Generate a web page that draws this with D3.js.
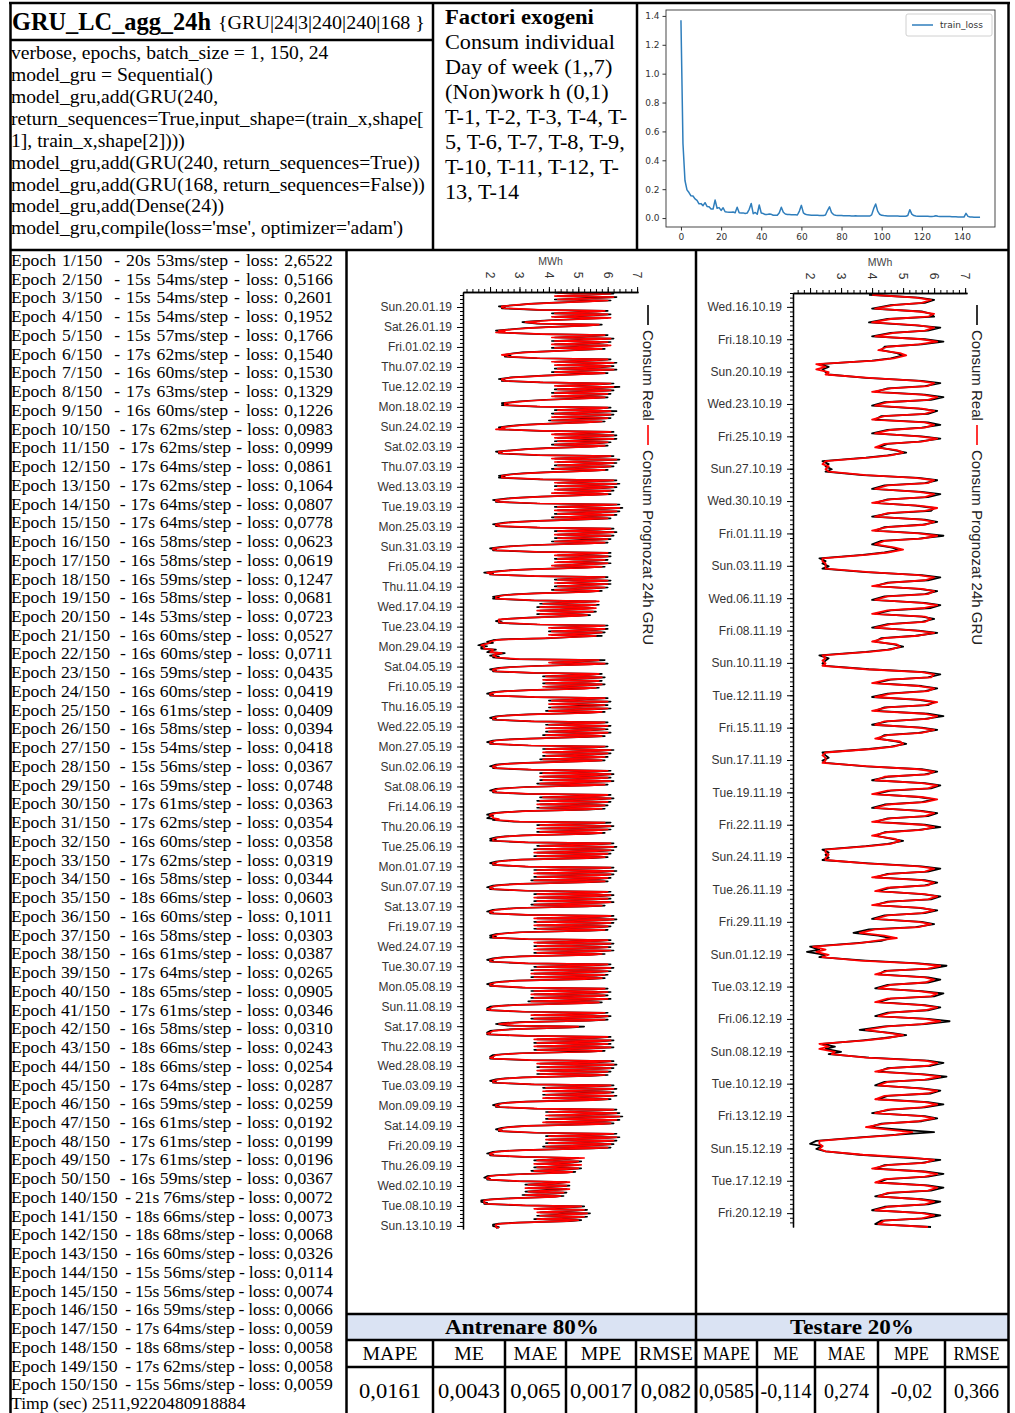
<!DOCTYPE html>
<html><head><meta charset="utf-8">
<script src="https://cdn.jsdelivr.net/npm/d3@7"></script>
<style>
html,body{margin:0;padding:0;background:#fff;}
svg{display:block;}
</style></head><body>
<svg id="fig" width="1015" height="1413"></svg>
<script>
// ---------------- model description ----------------
const modelName = "GRU_LC_agg_24h";
const modelTag = "{GRU|24|3|240|240|168 }";
const codeLines = [
  "verbose, epochs, batch_size = 1, 150, 24",
  "model_gru = Sequential()",
  "model_gru,add(GRU(240,",
  "return_sequences=True,input_shape=(train_x,shape[",
  "1], train_x,shape[2])))",
  "model_gru,add(GRU(240, return_sequences=True))",
  "model_gru,add(GRU(168, return_sequences=False))",
  "model_gru,add(Dense(24))",
  "model_gru,compile(loss='mse', optimizer='adam')"
];
const exoTitle = "Factori exogeni";
const exoLines = [
  "Consum individual", "Day of week (1,,7)", "(Non)work h (0,1)",
  "T-1, T-2, T-3, T-4, T-", "5, T-6, T-7, T-8, T-9,", "T-10, T-11, T-12, T-", "13, T-14"
];

// ---------------- training log ----------------
const epochNo = [1,2,3,4,5,6,7,8,9,10,11,12,13,14,15,16,17,18,19,20,21,22,23,24,25,26,27,28,29,30,
  31,32,33,34,35,36,37,38,39,40,41,42,43,44,45,46,47,48,49,50,140,141,142,143,144,145,146,147,148,149,150];
const epochSec = [20,15,15,15,15,17,16,17,16,17,17,17,17,17,17,16,16,16,16,14,16,16,16,16,16,16,15,15,16,17,
  17,16,17,16,18,16,16,16,17,18,17,16,18,18,17,16,16,17,17,16,21,18,18,16,15,15,16,17,18,17,15];
const epochMs = [53,54,54,54,57,62,60,63,60,62,62,64,62,64,64,58,58,59,58,53,60,60,59,60,61,58,54,56,59,61,
  62,60,62,58,66,60,58,61,64,65,61,58,66,66,64,59,61,61,61,59,76,66,68,60,56,56,59,64,68,62,56];
const epochLoss = [2.6522,0.5166,0.2601,0.1952,0.1766,0.1540,0.1530,0.1329,0.1226,0.0983,0.0999,0.0861,0.1064,0.0807,0.0778,
  0.0623,0.0619,0.1247,0.0681,0.0723,0.0527,0.0711,0.0435,0.0419,0.0409,0.0394,0.0418,0.0367,0.0748,0.0363,
  0.0354,0.0358,0.0319,0.0344,0.0603,0.1011,0.0303,0.0387,0.0265,0.0905,0.0346,0.0310,0.0243,0.0254,0.0287,
  0.0259,0.0192,0.0199,0.0196,0.0367,0.0072,0.0073,0.0068,0.0326,0.0114,0.0074,0.0066,0.0059,0.0058,0.0058,0.0059];
const totalEpochs = 150;
const trainTime = "2511,9220480918884";

// loss history plotted in the small chart (one value per epoch)
const lossCurve = [
  1.37,0.5166,0.2601,0.1952,0.1766,0.1540,0.1530,0.1329,0.1226,0.0983,
  0.0999,0.0861,0.1064,0.0807,0.0778,0.0623,0.0619,0.1247,0.0681,0.0723,
  0.0527,0.0711,0.0435,0.0419,0.0409,0.0394,0.0418,0.0367,0.0748,0.0363,
  0.0354,0.0358,0.0319,0.0344,0.0603,0.1011,0.0303,0.0387,0.0265,0.0905,
  0.0346,0.0310,0.0243,0.0254,0.0287,0.0259,0.0192,0.0199,0.0196,0.0367,
  0.075,0.040,0.028,0.025,0.024,0.023,0.022,0.022,0.021,0.048,
  0.088,0.036,0.026,0.022,0.021,0.020,0.020,0.019,0.019,0.018,
  0.018,0.018,0.021,0.052,0.078,0.038,0.024,0.019,0.018,0.017,
  0.017,0.016,0.016,0.016,0.016,0.015,0.015,0.016,0.015,0.015,
  0.015,0.015,0.014,0.015,0.014,0.022,0.065,0.097,0.048,0.026,
  0.019,0.017,0.016,0.015,0.015,0.014,0.014,0.014,0.014,0.013,
  0.013,0.013,0.013,0.018,0.058,0.027,0.017,0.014,0.013,0.013,
  0.012,0.012,0.012,0.012,0.011,0.011,0.012,0.016,0.012,0.011,
  0.011,0.010,0.010,0.010,0.010,0.009,0.009,0.009,0.008,
  0.0072,0.0073,0.0068,0.0326,0.0114,0.0074,0.0066,0.0059,0.0058,0.0058,0.0059
];
const lossXTicks = [0,20,40,60,80,100,120,140];
const lossYTicks = [0,0.2,0.4,0.6,0.8,1.0,1.2,1.4];

// ---------------- hourly load, MWh ----------------
// training set: one row per week, 3 readings a day (04h, 11h, 17h), from Wed 16.01.2019
const trainHours = [4, 11, 17];
const trainReal = [
  4.2,6.2,5.6, 4.3,6.3,5.7, 4.2,6.1,5.3, 4.0,3.3,3.0, 2.3,2.5,2.4,
  3.6,6.0,5.5, 4.1,6.1,5.6, 4.2,6.0,5.4, 4.0,3.4,3.1, 3.6,5.8,5.2, 3.9,3.2,2.8, 2.2,2.4,2.3,
  3.7,6.0,5.6, 4.2,6.2,5.5, 4.1,6.1,5.7, 4.2,6.0,5.4, 4.1,5.9,5.3, 3.9,3.1,2.8, 2.5,2.7,2.5,
  3.6,6.1,5.7, 4.2,6.3,5.6, 4.3,6.2,5.8, 4.2,6.3,5.6, 4.1,6.0,5.3, 3.8,3.2,2.7, 2.3,2.5,2.4,
  3.7,6.2,5.7, 4.3,6.4,5.8, 4.2,6.2,5.6, 4.1,6.1,5.7, 4.2,6.0,5.4, 3.9,3.3,2.9, 2.4,2.6,2.4,
  3.6,6.1,5.6, 4.2,6.3,5.7, 4.1,6.2,5.8, 4.2,6.1,5.5, 4.0,5.9,5.2, 3.8,3.1,2.7, 2.3,2.4,2.3,
  3.7,6.2,5.7, 4.2,6.3,5.8, 4.3,6.3,5.6, 4.2,6.1,5.7, 4.1,6.0,5.4, 3.9,3.2,2.8, 2.2,2.4,2.3,
  3.6,6.2,5.6, 4.2,6.4,5.8, 4.3,6.3,5.7, 4.2,6.2,5.6, 4.1,6.0,5.3, 3.8,3.1,2.7, 2.3,2.5,2.3,
  3.7,6.3,5.7, 4.3,6.4,5.9, 4.2,6.3,5.8, 4.3,6.2,5.6, 4.2,6.1,5.4, 3.7,3.0,2.6, 2.1,2.3,2.2,
  3.6,6.4,5.8, 4.2,6.5,5.9, 4.3,6.4,5.7, 4.2,6.3,5.8, 4.1,6.1,5.5, 3.6,2.9,2.5, 2.1,2.3,2.2,
  3.6,6.2,5.7, 4.2,6.3,5.6, 4.3,6.2,5.7, 4.2,6.1,5.5, 4.1,6.0,5.3, 3.5,2.8,2.4, 2.0,2.2,2.1,
  3.5,6.1,5.6, 4.3,6.1,5.5, 4.2,6.0,5.6, 4.3,6.1,5.4, 4.2,5.9,5.2, 3.5,2.7,2.3, 1.8,2.1,2.0,
  3.5,6.0,5.5, 4.2,6.1,5.6, 4.3,6.1,5.4, 4.2,6.0,5.5, 4.1,5.8,5.2, 3.5,2.8,2.4, 2.1,2.3,2.1,
  3.4,5.6,5.1, 3.7,5.7,5.2, 3.6,5.5,5.0, 3.7,5.6,5.1, 3.6,5.4,4.9, 3.3,2.7,2.4, 2.2,2.4,2.3,
  3.6,6.0,5.5, 4.1,6.0,5.6, 4.0,5.9,5.4, 4.1,5.8,5.0, 3.9,2.4,2.1, 1.9,2.1,1.8, 1.6,1.9,1.7,
  1.7,2.2,2.0, 1.9,2.5,2.3, 2.0,2.3,2.1, 2.8,5.9,5.4, 4.1,6.0,5.3, 3.5,2.7,2.3, 2.0,2.2,2.1,
  3.4,5.8,5.3, 3.8,5.9,5.4, 3.9,5.8,5.3, 3.8,5.9,5.4, 3.9,5.7,5.1, 3.3,2.5,2.1, 1.9,2.1,2.0,
  3.5,6.0,5.5, 4.0,6.1,5.6, 4.1,6.0,5.4, 4.0,6.1,5.5, 3.9,5.9,5.2, 3.3,2.6,2.2, 2.0,2.2,2.1,
  3.4,6.0,5.5, 3.9,6.1,5.6, 4.0,6.0,5.5, 3.9,6.1,5.4, 3.8,5.9,5.3, 3.3,2.5,2.1, 1.9,2.1,2.0,
  3.3,6.0,5.6, 3.8,6.2,5.6, 3.9,6.1,5.5, 3.8,6.0,5.4, 3.7,5.9,5.2, 3.2,2.5,2.2, 2.0,2.2,2.1,
  3.3,6.1,5.6, 3.7,6.2,5.7, 3.8,6.1,5.6, 3.7,6.2,5.5, 3.6,6.0,5.3, 3.2,2.6,2.2, 2.0,2.2,2.1,
  3.2,6.1,5.6, 3.7,6.2,5.7, 3.6,6.1,5.6, 3.7,6.0,5.5, 3.6,5.9,5.3, 3.1,2.5,2.1, 1.9,2.1,2.0,
  1.9,2.2,2.1, 2.8,6.1,5.6, 3.6,6.2,5.7, 3.7,6.1,5.5, 3.6,5.9,5.3, 3.1,2.5,2.2, 2.0,2.2,2.0,
  3.2,6.2,5.7, 3.6,6.3,5.8, 3.5,6.2,5.7, 3.6,6.1,5.6, 3.5,6.0,5.4, 3.0,2.5,2.2, 2.0,2.2,2.1,
  3.2,6.2,5.7, 3.5,6.3,5.8, 3.6,6.2,5.6, 3.5,6.1,5.7, 3.4,6.0,5.4, 3.0,2.4,2.1, 1.9,2.1,2.0,
  3.2,6.1,5.6, 3.5,6.2,5.7, 3.6,6.1,5.6, 3.5,6.2,5.5, 3.4,5.9,5.3, 2.9,2.4,2.1, 1.9,2.1,2.0,
  3.2,6.2,5.7, 3.6,6.3,5.8, 3.5,6.2,5.6, 3.6,6.1,5.7, 3.5,6.0,5.4, 3.0,2.5,2.2, 2.0,2.2,2.0,
  3.2,6.1,5.6, 3.6,6.2,5.7, 3.5,6.1,5.5, 3.6,6.2,5.6, 3.5,5.9,5.3, 3.0,2.4,2.1, 1.9,2.1,2.0,
  3.2,6.1,5.6, 3.5,6.2,5.6, 3.4,6.1,5.5, 3.5,6.0,5.6, 3.4,5.9,5.3, 2.9,2.4,2.1, 1.9,2.1,2.0,
  3.1,6.0,5.5, 3.4,6.1,5.6, 3.5,6.0,5.5, 3.4,6.1,5.4, 3.3,5.8,5.2, 2.9,2.3,2.0, 1.9,2.0,1.9,
  3.1,6.0,5.5, 3.5,6.1,5.6, 3.4,6.0,5.4, 3.0,2.4,2.2, 2.6,5.2,4.8, 2.8,2.3,2.0, 1.9,2.0,1.9,
  3.2,6.1,5.6, 3.6,6.2,5.7, 3.5,6.1,5.5, 3.6,6.2,5.6, 3.5,5.9,5.3, 3.0,2.4,2.1, 2.0,2.1,2.0,
  3.3,6.2,5.7, 3.7,6.3,5.8, 3.6,6.2,5.6, 3.7,6.1,5.7, 3.6,6.0,5.4, 3.1,2.5,2.2, 2.0,2.2,2.1,
  3.4,6.2,5.7, 3.8,6.3,5.8, 3.9,6.2,5.7, 3.8,6.3,5.6, 3.9,6.1,5.4, 3.2,2.6,2.3, 2.1,2.3,2.2,
  3.5,6.3,5.8, 3.9,6.4,5.9, 4.0,6.5,5.8, 3.9,6.4,5.9, 3.9,6.2,5.6, 3.2,2.7,2.4, 2.2,2.4,2.3,
  3.5,6.3,5.8, 3.9,6.4,5.8, 4.0,6.3,5.7, 3.9,6.2,5.8, 3.8,6.1,5.5, 3.1,2.4,2.1, 1.9,2.1,2.0,
  3.1,5.0,4.7, 3.5,5.1,4.8, 3.6,5.0,4.6, 3.5,5.1,4.7, 3.4,4.9,4.5, 2.9,2.2,1.9, 1.8,2.0,1.9,
  2.9,4.6,4.3, 3.2,4.7,4.4, 3.3,4.6,4.2, 3.2,4.6,4.3, 3.1,4.5,4.1, 2.6,2.0,1.7, 1.7,1.9,1.8,
  3.1,5.2,4.8, 3.6,5.3,4.9, 3.7,5.4,4.8, 3.6,5.3,4.9, 3.5,5.1,4.7, 2.9,2.3,2.1, 2.1,2.3,2.2
];
const trainPred = [
  4.3,6.1,5.7, 4.2,6.2,5.6, 4.3,6.0,5.4, 4.1,3.4,2.9, 2.4,2.4,2.5,
  3.7,5.9,5.6, 4.2,6.0,5.5, 4.1,6.1,5.5, 4.1,3.6,3.2, 3.7,5.7,5.3, 4.0,3.3,2.9, 2.3,2.5,2.2,
  3.8,5.9,5.5, 4.1,6.1,5.6, 4.2,6.0,5.6, 4.1,6.1,5.5, 4.2,5.8,5.2, 4.0,3.2,2.9, 2.4,2.6,2.6,
  3.7,6.0,5.6, 4.1,6.2,5.7, 4.2,6.1,5.7, 4.3,6.2,5.5, 4.2,5.9,5.4, 3.9,3.3,2.8, 2.4,2.4,2.5,
  3.8,6.1,5.6, 4.2,6.2,5.7, 4.3,6.1,5.7, 4.2,6.0,5.6, 4.1,5.9,5.5, 4.0,3.4,3.0, 2.5,2.5,2.5,
  3.7,6.0,5.7, 4.3,6.1,5.6, 4.2,6.1,5.7, 4.1,6.0,5.6, 4.1,5.8,5.3, 3.9,3.2,2.8, 2.4,2.5,2.2,
  3.8,6.1,5.6, 4.1,6.2,5.7, 4.2,6.2,5.7, 4.3,6.0,5.6, 4.2,5.9,5.5, 4.0,3.3,2.9, 2.3,2.3,2.4,
  3.7,6.1,5.7, 4.1,6.3,5.7, 4.2,6.2,5.8, 4.3,6.1,5.5, 4.2,5.9,5.4, 3.9,3.2,2.8, 2.4,2.4,2.4,
  3.8,6.2,5.6, 4.2,6.3,5.8, 4.3,6.2,5.7, 4.2,6.1,5.7, 4.1,6.0,5.5, 3.8,3.1,2.7, 2.2,2.2,2.3,
  3.7,6.3,5.7, 4.3,6.4,5.8, 4.2,6.3,5.8, 4.3,6.2,5.7, 4.2,6.0,5.4, 3.7,3.0,2.6, 2.2,2.2,2.3,
  3.7,6.1,5.6, 4.3,6.2,5.7, 4.2,6.1,5.6, 4.3,6.0,5.6, 4.2,5.9,5.4, 3.6,2.9,2.5, 2.1,2.1,2.2,
  3.6,6.0,5.5, 4.2,6.0,5.6, 4.3,5.9,5.5, 4.2,6.0,5.5, 4.1,5.8,5.3, 3.6,2.8,2.4, 1.9,2.0,2.1,
  3.6,5.9,5.6, 4.3,6.0,5.5, 4.2,6.0,5.5, 4.3,5.9,5.4, 4.2,5.7,5.3, 3.6,2.9,2.5, 2.2,2.2,2.2,
  3.5,5.7,5.0, 3.8,5.6,5.3, 3.7,5.6,5.1, 3.6,5.5,5.0, 3.7,5.3,5.0, 3.4,2.8,2.3, 2.3,2.3,2.4,
  3.7,5.9,5.6, 4.0,5.9,5.5, 4.1,5.8,5.3, 4.0,5.6,5.1, 3.7,2.6,2.2, 2.0,2.0,1.9, 1.7,1.8,1.8,
  1.8,2.1,2.1, 2.0,2.4,2.2, 2.1,2.2,2.2, 3.0,5.7,5.3, 4.0,5.9,5.4, 3.6,2.8,2.4, 2.1,2.1,2.2,
  3.5,5.7,5.4, 3.9,5.8,5.3, 3.8,5.7,5.4, 3.9,5.8,5.3, 3.8,5.6,5.2, 3.4,2.6,2.2, 2.0,2.0,2.1,
  3.6,5.9,5.4, 4.1,6.0,5.5, 4.0,5.9,5.5, 4.1,6.0,5.4, 4.0,5.8,5.3, 3.4,2.7,2.3, 2.1,2.1,2.2,
  3.5,5.9,5.6, 4.0,6.0,5.5, 3.9,5.9,5.4, 4.0,6.0,5.5, 3.9,5.8,5.2, 3.4,2.6,2.2, 2.0,2.0,2.1,
  3.4,5.9,5.5, 3.9,6.1,5.7, 3.8,6.0,5.4, 3.9,5.9,5.5, 3.8,5.8,5.3, 3.3,2.6,2.3, 2.1,2.1,2.2,
  3.4,6.0,5.5, 3.8,6.1,5.6, 3.7,6.0,5.7, 3.8,6.1,5.4, 3.7,5.9,5.4, 3.3,2.7,2.3, 2.1,2.1,2.2,
  3.3,6.0,5.7, 3.8,6.1,5.6, 3.7,6.0,5.5, 3.6,5.9,5.6, 3.7,5.8,5.2, 3.2,2.6,2.2, 2.0,2.0,2.1,
  2.1,2.3,2.2, 3.0,5.9,5.5, 3.7,6.1,5.6, 3.6,6.0,5.6, 3.7,5.8,5.2, 3.2,2.6,2.3, 2.1,2.1,2.1,
  3.3,6.1,5.6, 3.7,6.2,5.7, 3.6,6.1,5.6, 3.5,6.0,5.7, 3.6,5.9,5.3, 3.1,2.6,2.3, 2.1,2.1,2.2,
  3.3,6.1,5.6, 3.6,6.2,5.7, 3.5,6.1,5.7, 3.6,6.0,5.6, 3.5,5.9,5.3, 3.1,2.5,2.2, 2.0,2.0,2.1,
  3.3,6.0,5.7, 3.6,6.1,5.6, 3.5,6.0,5.5, 3.6,6.1,5.6, 3.5,5.8,5.2, 3.0,2.5,2.2, 2.0,2.0,2.1,
  3.3,6.1,5.6, 3.5,6.2,5.7, 3.6,6.1,5.7, 3.5,6.0,5.6, 3.6,5.9,5.3, 3.1,2.6,2.3, 2.1,2.1,2.1,
  3.3,6.0,5.7, 3.5,6.1,5.6, 3.6,6.0,5.6, 3.5,6.1,5.5, 3.6,5.8,5.4, 3.1,2.5,2.2, 2.0,2.0,2.1,
  3.3,6.0,5.5, 3.6,6.1,5.7, 3.5,6.0,5.4, 3.4,5.9,5.5, 3.5,5.8,5.2, 3.0,2.5,2.2, 2.0,2.0,2.1,
  3.2,5.9,5.6, 3.5,6.0,5.5, 3.4,5.9,5.6, 3.5,6.0,5.3, 3.4,5.7,5.3, 3.0,2.4,2.1, 2.0,1.9,2.0,
  3.2,5.9,5.4, 3.4,6.0,5.5, 3.5,5.9,5.3, 3.2,2.6,2.3, 2.8,5.0,4.7, 2.9,2.4,2.1, 2.0,1.9,2.0,
  3.3,6.0,5.5, 3.5,6.1,5.6, 3.6,6.0,5.6, 3.5,6.1,5.5, 3.6,5.8,5.4, 3.1,2.5,2.2, 2.1,2.0,2.1,
  3.4,6.1,5.6, 3.6,6.2,5.7, 3.7,6.1,5.7, 3.6,6.0,5.6, 3.7,5.9,5.3, 3.2,2.6,2.3, 2.1,2.1,2.2,
  3.5,6.1,5.6, 3.9,6.2,5.7, 3.8,6.1,5.8, 3.9,6.2,5.5, 3.8,6.0,5.5, 3.3,2.7,2.4, 2.2,2.2,2.3,
  3.6,6.2,5.7, 4.0,6.3,5.8, 3.9,6.4,5.9, 4.0,6.3,5.8, 3.8,6.1,5.7, 3.3,2.8,2.5, 2.3,2.3,2.4,
  3.6,6.2,5.7, 4.0,6.3,5.9, 3.9,6.2,5.6, 4.0,6.1,5.7, 3.9,6.0,5.4, 3.2,2.5,2.2, 2.0,2.0,2.1,
  3.2,5.2,4.6, 3.6,5.0,4.7, 3.5,5.1,4.7, 3.6,5.0,4.6, 3.5,4.8,4.6, 3.0,2.3,2.0, 1.9,1.9,2.0,
  3.0,4.7,4.2, 3.3,4.6,4.3, 3.2,4.7,4.3, 3.3,4.5,4.2, 3.2,4.4,4.2, 2.7,2.1,1.8, 1.8,1.8,1.9,
  3.2,5.1,4.7, 3.5,5.2,4.8, 3.6,5.3,4.9, 3.7,5.2,4.8, 3.6,5.0,4.6, 3.0,2.4,2.2, 2.2,2.2,2.3
];
const trainTickLabels = ["Sun.20.01.19","Sat.26.01.19","Fri.01.02.19","Thu.07.02.19","Tue.12.02.19","Mon.18.02.19",
  "Sun.24.02.19","Sat.02.03.19","Thu.07.03.19","Wed.13.03.19","Tue.19.03.19","Mon.25.03.19","Sun.31.03.19",
  "Fri.05.04.19","Thu.11.04.19","Wed.17.04.19","Tue.23.04.19","Mon.29.04.19","Sat.04.05.19","Fri.10.05.19",
  "Thu.16.05.19","Wed.22.05.19","Mon.27.05.19","Sun.02.06.19","Sat.08.06.19","Fri.14.06.19","Thu.20.06.19",
  "Tue.25.06.19","Mon.01.07.19","Sun.07.07.19","Sat.13.07.19","Fri.19.07.19","Wed.24.07.19","Tue.30.07.19",
  "Mon.05.08.19","Sun.11.08.19","Sat.17.08.19","Thu.22.08.19","Wed.28.08.19","Tue.03.09.19","Mon.09.09.19",
  "Sat.14.09.19","Fri.20.09.19","Thu.26.09.19","Wed.02.10.19","Tue.08.10.19","Sun.13.10.19"];

// test set: 5 readings a day (03h, 08h, 12h, 17h, 21h), from Tue 15.10.2019
const testHours = [3, 8, 12, 17, 21];
const testReal = [
  3.9,5.5,6.0,5.7,4.6, 4.0,5.6,5.9,6.0,4.5, 3.9,5.4,6.2,5.8,4.6, 4.0,5.7,6.3,5.6,4.4, 4.3,4.8,5.0,4.6,4.0, 2.3,2.6,2.4,2.5,2.6,
  3.8,5.6,6.2,5.7,4.5, 4.1,5.7,6.3,5.9,4.4, 4.0,5.5,6.1,5.8,4.3, 4.1,5.8,6.2,5.6,4.5, 4.0,5.6,6.2,5.5,4.5, 4.2,4.7,5.1,4.5,3.8, 2.4,2.6,2.5,2.7,2.5,
  3.7,5.5,6.1,5.7,4.4, 4.0,5.6,6.2,5.8,4.5, 4.1,5.4,6.0,5.9,4.6, 4.0,5.7,6.1,5.6,4.4, 4.1,5.6,6.3,5.5,4.3, 4.0,4.6,4.9,4.4,3.7, 2.3,2.5,2.4,2.6,2.4,
  3.8,5.6,6.2,5.8,4.5, 4.1,5.5,6.1,5.7,4.4, 4.0,5.7,6.2,5.9,4.6, 4.1,5.6,6.0,5.6,4.5, 4.0,5.5,6.1,5.4,4.3, 4.1,4.7,5.0,4.5,3.8, 2.3,2.6,2.5,2.4,2.5,
  3.9,5.7,6.2,5.8,4.6, 4.1,5.6,6.1,5.7,4.5, 4.0,5.5,6.0,5.8,4.4, 4.1,5.8,6.3,5.7,4.5, 4.0,5.6,6.1,5.5,4.4, 4.2,4.8,5.1,4.6,3.9, 2.4,2.5,2.6,2.4,2.5,
  3.8,5.6,6.1,5.7,4.5, 4.0,5.7,6.2,5.9,4.6, 4.1,5.5,6.0,5.6,4.4, 4.0,5.6,6.1,5.8,4.5, 4.1,5.7,6.2,5.5,4.4, 4.1,4.6,5.0,4.5,3.8, 2.4,2.6,2.5,2.6,2.4,
  3.9,5.6,6.2,5.8,4.5, 4.1,5.7,6.1,5.7,4.6, 4.2,5.6,6.2,5.9,4.5, 4.1,5.5,6.1,5.7,4.4, 4.0,5.6,6.0,5.4,3.9, 3.4,4.2,4.6,4.3,3.5, 2.0,2.3,1.9,2.5,2.3,
  3.8,5.5,6.4,5.9,4.4, 4.2,5.8,6.2,5.8,4.5, 4.1,5.6,6.3,6.0,4.6, 4.2,5.7,6.2,5.8,4.5, 4.1,5.8,6.5,5.7,4.4, 3.6,4.6,5.1,4.4,3.7, 2.4,2.8,2.5,3.0,2.6,
  3.9,5.8,6.3,5.9,4.5, 4.2,5.7,6.4,5.8,4.4, 4.1,5.6,6.2,5.9,4.5, 4.2,5.8,6.3,5.7,4.6, 4.0,5.7,6.1,5.6,4.3, 3.9,5.0,6.0,4.6,3.6, 2.2,2.0,2.4,2.2,2.5,
  3.6,5.0,6.2,5.6,4.4, 4.1,5.7,6.3,5.8,4.5, 4.2,5.8,6.3,5.9,4.6, 4.1,5.6,6.2,5.8,4.4, 4.0,5.7,6.2,5.7,4.3, 4.1,5.9
];
const testPred = [
  4.0,5.4,5.9,5.6,4.7, 4.1,5.5,6.0,5.8,4.6, 4.0,5.5,6.0,5.7,4.7, 4.1,5.6,6.1,5.5,4.5, 4.2,4.9,5.1,4.7,4.1, 2.2,2.5,2.2,2.6,2.5,
  3.9,5.5,6.0,5.8,4.6, 4.0,5.6,6.1,5.8,4.5, 4.1,5.6,6.0,5.7,4.4, 4.0,5.7,6.0,5.7,4.6, 4.1,5.5,6.1,5.6,4.4, 4.1,4.8,5.0,4.6,3.9, 2.5,2.4,2.6,2.5,2.6,
  3.8,5.4,6.0,5.8,4.5, 4.1,5.5,6.0,5.7,4.6, 4.0,5.5,6.1,5.7,4.5, 4.1,5.6,6.0,5.7,4.5, 4.0,5.5,6.1,5.6,4.4, 4.1,4.7,5.0,4.5,3.8, 2.4,2.4,2.5,2.5,2.5,
  3.9,5.5,6.0,5.7,4.6, 4.0,5.6,6.0,5.8,4.5, 4.1,5.6,6.1,5.7,4.5, 4.0,5.7,5.9,5.7,4.6, 4.1,5.4,6.0,5.5,4.4, 4.0,4.8,4.9,4.6,3.9, 2.4,2.5,2.4,2.5,2.4,
  3.8,5.6,6.0,5.9,4.5, 4.0,5.5,6.0,5.8,4.6, 4.1,5.6,6.1,5.7,4.5, 4.0,5.7,6.1,5.8,4.4, 4.1,5.5,6.0,5.6,4.5, 4.1,4.9,5.0,4.7,4.0, 2.5,2.4,2.5,2.5,2.4,
  3.9,5.5,6.0,5.8,4.4, 4.1,5.6,6.1,5.8,4.5, 4.0,5.6,6.1,5.7,4.5, 4.1,5.5,6.0,5.7,4.6, 4.0,5.6,6.0,5.6,4.5, 4.0,4.7,4.9,4.6,3.9, 2.5,2.5,2.6,2.5,2.5,
  3.8,5.5,6.0,5.7,4.6, 4.0,5.6,6.0,5.8,4.5, 4.1,5.7,6.1,5.8,4.6, 4.0,5.6,6.0,5.6,4.5, 4.1,5.5,5.9,5.5,4.1, 3.6,4.4,4.8,4.1,3.6, 2.1,2.5,2.2,2.6,2.4,
  3.6,5.4,6.2,5.8,4.5, 4.1,5.7,6.0,5.7,4.6, 4.2,5.5,6.1,5.9,4.5, 4.1,5.6,6.1,5.7,4.6, 4.2,5.7,6.2,5.6,4.5, 3.8,4.5,5.0,4.5,3.8, 2.3,2.6,2.3,2.8,2.7,
  3.8,5.7,6.1,5.8,4.6, 4.1,5.6,6.2,5.7,4.5, 4.2,5.5,6.1,5.8,4.4, 4.1,5.7,6.1,5.6,4.5, 4.1,5.6,6.0,5.5,4.4, 3.8,4.6,5.3,4.7,3.7, 2.3,2.3,2.4,2.3,2.5,
  3.7,5.3,6.0,5.7,4.5, 4.0,5.6,6.1,5.7,4.4, 4.1,5.7,6.1,5.8,4.5, 4.2,5.5,6.0,5.7,4.5, 4.1,5.6,6.0,5.6,4.4, 4.2,5.8
];
const testTickLabels = ["Wed.16.10.19","Fri.18.10.19","Sun.20.10.19","Wed.23.10.19","Fri.25.10.19","Sun.27.10.19",
  "Wed.30.10.19","Fri.01.11.19","Sun.03.11.19","Wed.06.11.19","Fri.08.11.19","Sun.10.11.19","Tue.12.11.19",
  "Fri.15.11.19","Sun.17.11.19","Tue.19.11.19","Fri.22.11.19","Sun.24.11.19","Tue.26.11.19","Fri.29.11.19",
  "Sun.01.12.19","Tue.03.12.19","Fri.06.12.19","Sun.08.12.19","Tue.10.12.19","Fri.13.12.19","Sun.15.12.19",
  "Tue.17.12.19","Fri.20.12.19"];

const valueTicks = [2, 3, 4, 5, 6, 7];
const seriesNames = ["Consum Real", "Consum Prognozat 24h GRU"];

// ---------------- error metrics ----------------
const metricNames = ["MAPE", "ME", "MAE", "MPE", "RMSE"];
const trainMetrics = [0.0161, 0.0043, 0.065, 0.0017, 0.082];
const testMetrics = [0.0585, -0.114, 0.274, -0.02, 0.366];
const splitNames = ["Antrenare 80%", "Testare 20%"];

// =====================================================================
const SERIF = "'Liberation Serif','Times New Roman',serif";
const SANS = "'Liberation Sans',Arial,sans-serif";
const svg = d3.select("#fig");
const comma = v => String(v).replace(".", ",");

function measure(str, size, weight, family) {
  const t = svg.append("text").attr("font-family", family).attr("font-size", size)
    .attr("font-weight", weight || "normal").style("white-space", "pre").text(str);
  const w = t.node().getComputedTextLength();
  t.remove();
  return w;
}
// serif text, stretched horizontally so the reference string spans refWidth
function serifLines(lines, o) {
  const f = o.refWidth / measure(o.refStr, o.size, o.weight, SERIF);
  lines.forEach((s, i) => {
    svg.append("text")
      .attr("transform", `translate(${o.x},${o.y0 + i * (o.pitch || 0) + 0.33 * o.size}) scale(${f},1)`)
      .attr("font-family", SERIF).attr("font-size", o.size).attr("font-weight", o.weight || "normal")
      .attr("text-anchor", o.anchor || "start").style("white-space", "pre").attr("fill", "#000")
      .text(s);
  });
}
// justified paragraph lines (word spacing fills the cell width), last line left as is
function justifiedLines(lines, o) {
  lines.forEach((s, i) => {
    const natural = measure(s, o.size, "normal", SERIF) * o.scale;
    const spaces = (s.match(/ /g) || []).length;
    const ws = (i < lines.length - 1 && spaces) ? (o.width - natural) / spaces / o.scale : 0;
    svg.append("text")
      .attr("transform", `translate(${o.x},${o.y0 + i * o.pitch + 0.33 * o.size}) scale(${o.scale},1)`)
      .attr("font-family", SERIF).attr("font-size", o.size).attr("word-spacing", ws)
      .style("white-space", "pre").attr("fill", "#000").text(s);
  });
}

// ---------------- left text column ----------------
serifLines([modelName], {x: 12, y0: 21, size: 26, weight: "bold", refStr: modelName, refWidth: 199});
serifLines([modelTag], {x: 218, y0: 23, size: 18, refStr: modelTag, refWidth: 207});
serifLines(codeLines, {x: 11, y0: 53, pitch: 21.9, size: 18.5,
  refStr: codeLines[5], refWidth: 409});
serifLines([exoTitle], {x: 445, y0: 17, size: 20.5, weight: "bold", refStr: exoTitle, refWidth: 149});
serifLines(exoLines, {x: 445, y0: 42, pitch: 25.1, size: 20.5, refStr: exoLines[0], refWidth: 170});

const logLines = epochNo.map((n, i) =>
  `Epoch ${n}/${totalEpochs}  - ${epochSec[i]}s ${epochMs[i]}ms/step - loss: ${epochLoss[i].toFixed(4).replace(".", ",")}`);
logLines.push(`Timp (sec) ${trainTime}`);
justifiedLines(logLines, {x: 11, y0: 260.5, pitch: 18.74, size: 16.5, scale: 1.07, width: 322});

// ---------------- loss chart ----------------
(function lossChart() {
  const x = d3.scaleLinear().domain([-7.45, 156.45]).range([666, 995]);
  const y = d3.scaleLinear().domain([-0.062, 1.441]).range([227, 10]);
  const g = svg.append("g");
  g.append("path").datum(lossCurve)
    .attr("d", d3.line().x((d, i) => x(i)).y(d => y(d)))
    .attr("fill", "none").attr("stroke", "#2f7ebc").attr("stroke-width", 1.5).attr("stroke-linejoin", "round");
  g.append("rect").attr("x", 666).attr("y", 10).attr("width", 329).attr("height", 217)
    .attr("fill", "none").attr("stroke", "#333").attr("stroke-width", 0.9);
  const ax = g.append("g").attr("transform", "translate(0,227)")
    .call(d3.axisBottom(x).tickValues(lossXTicks).tickSize(3.5).tickSizeOuter(0).tickPadding(3));
  const ay = g.append("g").attr("transform", "translate(666,0)")
    .call(d3.axisLeft(y).tickValues(lossYTicks).tickSize(3.5).tickSizeOuter(0).tickPadding(3).tickFormat(d3.format(".1f")));
  [ax, ay].forEach(a => {
    a.select(".domain").remove();
    a.selectAll("line").attr("stroke", "#333");
    a.selectAll("text").attr("font-family", "'DejaVu Sans',sans-serif").attr("font-size", 9).attr("fill", "#333");
  });
  const lg = g.append("g");
  lg.append("rect").attr("x", 906).attr("y", 14).attr("width", 86).attr("height", 22).attr("rx", 2)
    .attr("fill", "#fff").attr("stroke", "#d0d0d0");
  lg.append("line").attr("x1", 912).attr("x2", 933).attr("y1", 25).attr("y2", 25)
    .attr("stroke", "#2f7ebc").attr("stroke-width", 1.5);
  lg.append("text").attr("x", 940).attr("y", 28).attr("font-family", "'DejaVu Sans',sans-serif")
    .attr("font-size", 9).attr("fill", "#333").text("train_loss");
})();

// ---------------- load panels (time runs downward) ----------------
function loadPanel(cfg) {
  const g = svg.append("g");
  const x = d3.scaleLinear().domain(cfg.xDomain).range(cfg.xRange);
  const y = d3.scaleLinear().domain(cfg.tDomain).range(cfg.yRange);
  const per = cfg.hours.length;
  const pts = arr => arr.map((v, i) => ({t: Math.floor(i / per) * 24 + cfg.hours[i % per], v}));
  const line = d3.line().x(d => x(d.v)).y(d => y(d.t));
  g.append("path").datum(pts(cfg.real)).attr("d", line).attr("fill", "none")
    .attr("stroke", "#000").attr("stroke-width", cfg.lineWidth).attr("stroke-linejoin", "round");
  g.append("path").datum(pts(cfg.pred)).attr("d", line).attr("fill", "none")
    .attr("stroke", "#ff0000").attr("stroke-width", cfg.lineWidth).attr("stroke-linejoin", "round");

  const top = cfg.yRange[0], left = cfg.xRange[0];
  const style = a => {
    a.selectAll("line").attr("stroke", "#000");
    a.select(".domain").attr("stroke", "#000").attr("stroke-width", 1.3);
  };
  // value axis along the top
  const minorX = d3.range(1.2, 7.01, 0.2).filter(v => v >= cfg.xDomain[0] && v <= cfg.xDomain[1]);
  g.append("g").attr("transform", `translate(0,${top})`)
    .call(d3.axisTop(x).tickValues(minorX).tickSize(3).tickSizeOuter(0).tickFormat(""))
    .call(style);
  g.append("g").attr("transform", `translate(0,${top})`)
    .call(d3.axisTop(x).tickValues(valueTicks).tickSize(5).tickSizeOuter(0).tickFormat(""))
    .call(style);
  valueTicks.forEach(v => {
    g.append("text").attr("transform", `translate(${x(v)},${top - 17}) rotate(90)`)
      .attr("text-anchor", "middle").attr("dominant-baseline", "central")
      .attr("font-family", SANS).attr("font-size", 12).attr("fill", "#333").text(v);
  });
  g.append("text").attr("x", (cfg.xRange[0] + cfg.xRange[1]) / 2).attr("y", top - 27)
    .attr("text-anchor", "middle").attr("font-family", SANS).attr("font-size", 10.5)
    .attr("fill", "#444").text("MWh");

  // time axis on the left
  const majorT = cfg.tickLabels.map((_, k) => cfg.tickStart + k * cfg.tickStep);
  const minorT = d3.range(cfg.minorStart, cfg.tDomain[1], cfg.minorStep);
  g.append("g").attr("transform", `translate(${left},0)`)
    .call(d3.axisLeft(y).tickValues(minorT).tickSize(3).tickSizeOuter(0).tickFormat(""))
    .call(style);
  const ya = g.append("g").attr("transform", `translate(${left},0)`)
    .call(d3.axisLeft(y).tickValues(majorT).tickSize(6).tickSizeOuter(0).tickPadding(5)
      .tickFormat((d, i) => cfg.tickLabels[i]))
    .call(style);
  ya.selectAll("text").attr("font-family", SANS).attr("font-size", 12).attr("fill", "#333");

  // legend, written downward beside the panel
  const lx = cfg.legendX;
  const leg = g.append("g");
  leg.append("line").attr("x1", lx).attr("x2", lx).attr("y1", 305).attr("y2", 325)
    .attr("stroke", "#000").attr("stroke-width", 1.6);
  leg.append("text").attr("transform", `translate(${lx},330) rotate(90)`)
    .attr("dominant-baseline", "central").attr("font-family", SANS).attr("font-size", 15)
    .attr("fill", "#222").text(seriesNames[0]);
  leg.append("line").attr("x1", lx).attr("x2", lx).attr("y1", 425).attr("y2", 445)
    .attr("stroke", "#ff0000").attr("stroke-width", 1.6);
  leg.append("text").attr("transform", `translate(${lx},450) rotate(90)`)
    .attr("dominant-baseline", "central").attr("font-family", SANS).attr("font-size", 15)
    .attr("fill", "#222").text(seriesNames[1]);
}

loadPanel({
  real: trainReal, pred: trainPred, hours: trainHours, lineWidth: 1.7,
  xDomain: [1.08, 7.03], xRange: [463, 638],
  tDomain: [0, 6504], yRange: [292, 1229],
  tickLabels: trainTickLabels, tickStart: 104.1, tickStep: 138.67,
  minorStart: 20.9, minorStep: 27.734, legendX: 648
});
loadPanel({
  real: testReal, pred: testPred, hours: testHours, lineWidth: 1.8,
  xDomain: [1.45, 7.06], xRange: [793, 967],
  tDomain: [0, 1616], yRange: [293, 1227],
  tickLabels: testTickLabels, tickStart: 24, tickStep: 56,
  minorStart: 0, minorStep: 8, legendX: 977
});

// ---------------- metrics table ----------------
const colEdges = [347, 433, 505, 566, 636, 696, 757, 815, 878, 945, 1008];
svg.insert("rect", ":first-child").attr("x", 347).attr("y", 1314).attr("width", 661).attr("height", 26)
  .attr("fill", "#dae3f3");
serifLines([splitNames[0]], {x: 522, y0: 1327, size: 21, weight: "bold", anchor: "middle",
  refStr: splitNames[0], refWidth: 154});
serifLines([splitNames[1]], {x: 852, y0: 1327, size: 21, weight: "bold", anchor: "middle",
  refStr: splitNames[0], refWidth: 154});
// the test half of the table is set slightly narrower
const headW = [55, 47], valW = [62, 55];
[...metricNames, ...metricNames].forEach((m, i) => {
  const side = i < 5 ? 0 : 1;
  const f = headW[side] / measure("MAPE", 19.5, "normal", SERIF);
  const cx = (colEdges[i] + colEdges[i + 1]) / 2;
  svg.append("text").attr("transform", `translate(${cx},${1354 + 0.33 * 19.5}) scale(${f},1)`)
    .attr("text-anchor", "middle").attr("font-family", SERIF).attr("font-size", 19.5).text(m);
});
[...trainMetrics, ...testMetrics].forEach((v, i) => {
  const side = i < 5 ? 0 : 1;
  const f = valW[side] / measure("0,0161", 22, "normal", SERIF);
  const cx = (colEdges[i] + colEdges[i + 1]) / 2;
  svg.append("text").attr("transform", `translate(${cx},${1391 + 0.33 * 22}) scale(${f},1)`)
    .attr("text-anchor", "middle").attr("font-family", SERIF).attr("font-size", 22).text(comma(v));
});

// ---------------- cell borders ----------------
const rule = (x1, y1, x2, y2) => svg.append("line").attr("x1", x1).attr("y1", y1).attr("x2", x2).attr("y2", y2)
  .attr("stroke", "#000").attr("stroke-width", 2.5);
rule(9, 3, 1010, 3);
rule(10.5, 2, 10.5, 1413);
rule(1008.5, 2, 1008.5, 1413);
rule(10, 40, 433, 40);
rule(433, 3, 433, 250);
rule(637, 3, 637, 250);
rule(10, 250, 1008, 250);
rule(346.5, 250, 346.5, 1413);
rule(696, 250, 696, 1413);
rule(346, 1314, 1008, 1314);
rule(346, 1340, 1008, 1340);
rule(346, 1367, 1008, 1367);
colEdges.slice(1, -1).forEach(cx => rule(cx, 1340, cx, 1413));
</script>
</body></html>
